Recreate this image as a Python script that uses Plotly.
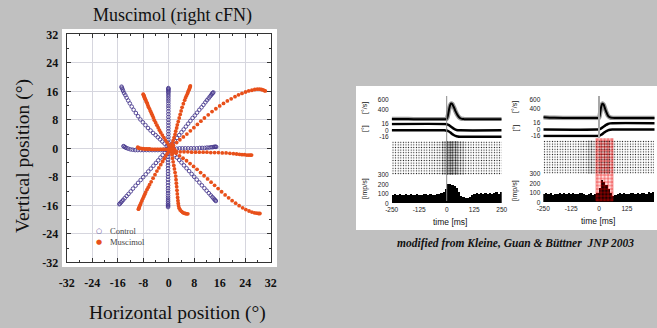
import plotly.graph_objects as go

W, H = 657, 328

# ---------------- data: saccade trajectories (deg) ----------------
ctrl_upleft = [(0.0,0.0),(-0.6,0.6),(-1.3,1.3),(-2.0,1.9),(-2.7,2.5),(-3.4,3.1),(-4.1,3.7),(-4.9,4.3),(-5.7,5.0),(-6.5,5.7),(-7.3,6.5),(-8.1,7.3),(-8.9,8.1),(-9.6,9.0),(-10.3,9.9),(-11.0,10.8),(-11.6,11.7),(-12.2,12.6),(-12.7,13.4),(-13.2,14.2),(-13.6,14.9),(-14.0,15.5),(-14.3,16.1),(-14.5,16.6),(-14.7,17.0),(-14.8,17.3)]
ctrl_up = [(-0.1,0.0),(-0.1,0.8),(-0.1,1.6),(-0.1,2.4),(-0.1,3.2),(-0.1,4.0),(-0.1,4.8),(-0.1,5.6),(-0.1,6.4),(-0.1,7.2),(-0.1,8.0),(-0.1,8.8),(-0.1,9.6),(-0.1,10.4),(-0.1,11.2),(-0.1,11.9),(-0.1,12.6),(-0.1,13.3),(-0.1,13.9),(-0.1,14.5),(-0.1,15.0),(-0.1,15.5),(-0.1,15.9),(-0.1,16.2),(-0.1,16.5),(-0.1,16.7),(-0.1,16.9)]
ctrl_upright = [(0.6,0.7),(1.2,1.4),(1.9,2.1),(2.6,2.9),(3.3,3.7),(4.0,4.5),(4.7,5.3),(5.4,6.1),(6.1,6.9),(6.8,7.7),(7.5,8.5),(8.2,9.2),(8.9,10.0),(9.6,10.8),(10.3,11.5),(10.9,12.2),(11.5,12.9),(12.0,13.5),(12.5,14.0),(12.9,14.5),(13.3,14.9),(13.6,15.3),(13.8,15.5),(14.0,15.7)]
ctrl_right = [(0.8,-0.3),(1.6,-0.2),(2.5,-0.1),(3.4,0.0),(4.3,0.0),(5.2,0.0),(6.1,0.0),(7.0,0.0),(7.9,0.0),(8.8,0.0),(9.7,0.1),(10.5,0.1),(11.3,0.1),(12.0,0.2),(12.7,0.2),(13.3,0.3),(13.8,0.3),(14.2,0.4),(14.5,0.4),(14.7,0.4),(14.9,0.4)]
ctrl_left = [(-0.8,-0.3),(-1.6,-0.4),(-2.5,-0.5),(-3.4,-0.5),(-4.3,-0.5),(-5.2,-0.5),(-6.1,-0.5),(-7.0,-0.5),(-7.9,-0.5),(-8.8,-0.5),(-9.7,-0.5),(-10.5,-0.5),(-11.3,-0.4),(-12.0,-0.3),(-12.7,-0.1),(-13.3,0.1),(-13.7,0.3),(-14.0,0.5),(-14.2,0.6)]
ctrl_downleft = [(-0.6,-0.6),(-1.2,-1.2),(-1.9,-1.9),(-2.6,-2.6),(-3.3,-3.4),(-4.0,-4.1),(-4.8,-4.9),(-5.6,-5.7),(-6.4,-6.5),(-7.2,-7.3),(-8.0,-8.1),(-8.8,-8.9),(-9.6,-9.7),(-10.4,-10.5),(-11.2,-11.3),(-11.9,-12.1),(-12.6,-12.8),(-13.2,-13.4),(-13.8,-14.0),(-14.3,-14.5),(-14.7,-14.9),(-15.0,-15.2),(-15.3,-15.5),(-15.5,-15.7)]
ctrl_down = [(-0.2,-0.8),(-0.2,-1.6),(-0.2,-2.4),(-0.2,-3.2),(-0.2,-4.0),(-0.2,-4.8),(-0.2,-5.6),(-0.2,-6.4),(-0.2,-7.2),(-0.2,-8.0),(-0.2,-8.8),(-0.2,-9.6),(-0.2,-10.4),(-0.2,-11.2),(-0.2,-11.9),(-0.2,-12.6),(-0.2,-13.3),(-0.2,-13.9),(-0.2,-14.5),(-0.2,-15.0),(-0.2,-15.5),(-0.2,-15.9),(-0.2,-16.2),(-0.2,-16.5)]
ctrl_downright = [(0.6,-0.6),(1.2,-1.2),(1.9,-1.9),(2.6,-2.6),(3.3,-3.3),(4.0,-4.0),(4.8,-4.8),(5.6,-5.6),(6.4,-6.4),(7.2,-7.2),(8.0,-8.0),(8.8,-8.8),(9.6,-9.6),(10.4,-10.4),(11.2,-11.2),(11.9,-11.9),(12.6,-12.6),(13.2,-13.2),(13.7,-13.7),(14.1,-14.1),(14.4,-14.4),(14.6,-14.6),(14.8,-14.8)]

mus_center = [(0.5,-0.5),(1.0,-0.2),(1.5,-0.6),(1.0,-1.0),(0.6,0.1),(1.4,0.2),(1.8,-0.3),(0.2,-0.8),(1.2,-1.4),(2.0,-0.9)]
mus_upleft = [(0.5,0.3),(0.0,0.9),(-0.5,1.6),(-1.0,2.3),(-1.5,3.0),(-2.0,3.7),(-2.5,4.4),(-2.9,5.1),(-3.3,5.8),(-3.7,6.5),(-4.1,7.2),(-4.5,7.9),(-4.8,8.6),(-5.1,9.2),(-5.4,9.8),(-5.7,10.4),(-6.0,11.0),(-6.3,11.5),(-6.5,12.0),(-6.7,12.5),(-6.9,12.9),(-7.1,13.3),(-7.3,13.7),(-7.5,14.0),(-7.6,14.3),(-7.7,14.6),(-7.8,14.8),(-7.9,15.0),(-8.0,15.2)]
mus_up = [(0.8,0.7),(1.1,1.4),(1.4,2.2),(1.7,3.0),(2.0,3.9),(2.2,4.8),(2.5,5.7),(2.7,6.6),(3.0,7.5),(3.3,8.5),(3.6,9.5),(3.9,10.5),(4.2,11.5),(4.6,12.5),(5.0,13.5),(5.3,14.2),(5.6,14.8),(5.9,15.4),(6.1,15.9),(6.3,16.3),(6.5,16.7),(6.6,17.0),(6.7,17.3),(6.8,17.5)]
mus_upright = [(1.5,0.8),(2.5,1.6),(3.5,2.4),(4.6,3.2),(5.7,4.0),(6.8,4.9),(7.9,5.8),(9.0,6.7),(10.1,7.6),(11.2,8.5),(12.4,9.4),(13.6,10.3),(14.8,11.1),(16.0,11.9),(17.2,12.6),(18.4,13.3),(19.6,13.9),(20.8,14.5),(21.9,15.0),(23.0,15.4),(24.1,15.8),(25.1,16.1),(26.1,16.3),(27.0,16.5),(27.8,16.6),(28.5,16.6),(29.1,16.5),(29.6,16.4),(30.0,16.2),(30.3,16.1)]
mus_right = [(1.2,-0.8),(2.4,-0.9),(3.6,-1.0),(4.8,-1.0),(6.0,-1.0),(7.2,-1.1),(8.4,-1.1),(9.6,-1.1),(10.8,-1.1),(12.0,-1.1),(13.2,-1.2),(14.4,-1.2),(15.6,-1.2),(16.8,-1.3),(18.0,-1.3),(19.2,-1.4),(20.3,-1.5),(21.3,-1.6),(22.2,-1.7),(23.0,-1.8),(23.8,-1.8),(24.5,-1.9),(25.1,-1.9),(25.6,-1.9),(26.0,-1.9)]
mus_left = [(0.5,-0.2),(0.0,-0.2),(-0.5,-0.3),(-1.0,-0.3),(-1.5,-0.3),(-2.0,-0.3),(-2.5,-0.3),(-3.0,-0.3),(-3.5,-0.3),(-4.0,-0.3),(-4.5,-0.3),(-5.0,-0.3),(-5.5,-0.3),(-6.0,-0.2),(-6.5,-0.2),(-7.0,-0.2),(-7.5,-0.2),(-8.0,-0.1),(-8.4,-0.1),(-8.8,0.0),(-9.2,0.0),(-9.5,0.1),(-9.7,0.3)]
mus_downleft = [(0.0,-0.7),(-0.4,-1.4),(-0.9,-2.1),(-1.4,-2.9),(-1.9,-3.7),(-2.5,-4.6),(-3.1,-5.5),(-3.7,-6.4),(-4.3,-7.4),(-4.9,-8.4),(-5.5,-9.4),(-6.0,-10.2),(-6.4,-10.9),(-6.8,-11.6),(-7.2,-12.3),(-7.5,-12.9),(-7.8,-13.5),(-8.1,-14.1),(-8.4,-14.7),(-8.7,-15.3),(-8.9,-15.8),(-9.1,-16.2),(-9.3,-16.6),(-9.4,-16.9),(-9.5,-17.1)]
mus_down = [(0.8,-0.8),(1.0,-1.8),(1.2,-2.8),(1.4,-3.8),(1.6,-4.8),(1.8,-5.8),(2.0,-6.8),(2.2,-7.8),(2.3,-8.8),(2.4,-9.8),(2.5,-10.8),(2.6,-11.8),(2.7,-12.8),(2.8,-13.8),(2.9,-14.7),(3.0,-15.5),(3.1,-16.2),(3.3,-16.8),(3.6,-17.3),(4.0,-17.7),(4.4,-18.0),(4.8,-18.2),(5.2,-18.3),(5.6,-18.4),(6.0,-18.4)]
mus_downright = [(1.2,-0.7),(2.3,-1.4),(3.4,-2.1),(4.5,-2.8),(5.6,-3.5),(6.7,-4.3),(7.8,-5.1),(8.9,-5.9),(10.0,-6.8),(11.1,-7.7),(12.2,-8.6),(13.3,-9.5),(14.4,-10.4),(15.5,-11.3),(16.6,-12.2),(17.7,-13.1),(18.8,-13.9),(19.9,-14.7),(21.0,-15.4),(22.1,-16.1),(23.2,-16.7),(24.2,-17.2),(25.2,-17.6),(26.1,-17.9),(26.9,-18.1),(27.6,-18.2),(28.2,-18.3),(28.6,-18.3)]

axis_ticks = [-32, -24, -16, -8, 0, 8, 16, 24, 32]
axis_labels = ["-32", "-24", "-16", "-8", "0", "8", "16", "24", "32"]

# ---------------- data: neural recording panels ----------------
time_ticks = [-250, -125, 0, 125, 250]
time_labels = ["-250", "-125", "0", "125", "250"]
vel_time = [-250, -200, -150, -100, -50, -5, 0, 5, 10, 15, 20, 25, 30, 35, 40, 50, 60, 70, 80, 150, 250]
vel_left = [195, 192, 190, 190, 190, 190, 195, 260, 380, 480, 525, 515, 470, 420, 360, 270, 215, 195, 190, 190, 190]
vel_right = [215, 200, 197, 197, 197, 197, 200, 300, 440, 505, 490, 430, 360, 300, 250, 210, 200, 197, 197, 197, 197]
pos_time = [-250, -10, 0, 10, 20, 30, 40, 50, 60, 250]
pos_left_a = [16, 16, 15.5, 13, 9, 5, 2, 0.5, 0, 0]
pos_left_b = [0, 0, -0.5, -3, -7, -11, -14, -15.5, -16, -16]
pos_right_a = [0, 0, 0.5, 3, 7, 11, 14, 15.5, 16, 16]
pos_right_b = [-16, -16, -15.5, -13, -9, -5, -2, -0.5, 0, 0]

raster_time = [-237.5, -212.5, -187.5, -162.5, -137.5, -112.5, -87.5, -62.5, -37.5, -12.5,
               12.5, 37.5, 62.5, 87.5, 112.5, 137.5, 162.5, 187.5, 212.5, 237.5]
raster_left = [0.16, 0.18, 0.16, 0.17, 0.16, 0.18, 0.17, 0.19, 0.24, 0.38, 0.5, 0.45, 0.3, 0.2, 0.17, 0.16, 0.18, 0.16, 0.17, 0.16]
raster_right = [0.16, 0.17, 0.16, 0.18, 0.16, 0.17, 0.19, 0.24, 0.3, 0.25, 0.42, 0.42, 0.24, 0.16, 0.17, 0.16, 0.17, 0.16, 0.17, 0.16]

hist_time = [-245, -235, -225, -215, -205, -195, -185, -175, -165, -155,
             -145, -135, -125, -115, -105, -95, -85, -75, -65, -55,
             -45, -35, -25, -15, -5, 5, 15, 25, 35, 45,
             55, 65, 75, 85, 95, 105, 115, 125, 135, 145,
             155, 165, 175, 185, 195, 205, 215, 225, 235, 245]
hist_left = [85, 95, 90, 100, 88, 92, 98, 86, 95, 90,
             88, 97, 92, 85, 99, 95, 90, 100, 93, 88,
             96, 100, 105, 120, 150, 205, 200, 190, 185, 160,
             120, 80, 62, 55, 60, 70, 85, 95, 105, 100,
             110, 95, 105, 100, 112, 98, 108, 115, 100, 120]
hist_right = [90, 100, 85, 95, 80, 92, 85, 98, 88, 95,
              90, 100, 88, 95, 92, 85, 95, 100, 90, 80,
              88, 95, 80, 85, 100, 150, 235, 220, 180, 140,
              100, 70, 80, 90, 95, 88, 100, 92, 85, 98,
              95, 90, 100, 85, 95, 100, 90, 105, 95, 110]
window_start, window_end = -10, 65

# ---------------- helpers ----------------
def xs(tr): return [p[0] for p in tr]
def ys(tr): return [p[1] for p in tr]
def px(p): return p / W
def py(p): return 1 - p / H

CTRL = "#4a3b8e"
MUS = "#e8501a"
SERIF = "Liberation Serif"
SANS = "Liberation Sans"

fig = go.Figure()

ctrl = [ctrl_upleft, ctrl_up, ctrl_upright, ctrl_right, ctrl_left, ctrl_downleft, ctrl_down, ctrl_downright]
mus = [mus_center, mus_upleft, mus_up, mus_upright, mus_right, mus_left, mus_downleft, mus_down, mus_downright]
fig.add_trace(go.Scatter(x=sum([xs(t) for t in ctrl], []), y=sum([ys(t) for t in ctrl], []),
                         mode="markers", name="Control",
                         marker=dict(symbol="circle-open", size=3.6, color=CTRL, line=dict(width=0.9, color=CTRL))))
fig.add_trace(go.Scatter(x=sum([xs(t) for t in mus], []), y=sum([ys(t) for t in mus], []),
                         mode="markers", name="Muscimol",
                         marker=dict(symbol="circle", size=3.8, color=MUS)))

# ---- recording panels (left: x2 / y2..y5, right: x3 / y6..y9) ----
def panel(xa, yv, yp, yr, yh, vel, pa, pb, raster, hist):
    fig.add_trace(go.Scatter(x=vel_time, y=vel, xaxis=xa, yaxis=yv, mode="lines",
                             line=dict(color="#9a9a9a", width=4.5), line_shape="spline"))
    fig.add_trace(go.Scatter(x=vel_time, y=vel, xaxis=xa, yaxis=yv, mode="lines",
                             line=dict(color="black", width=2), line_shape="spline"))
    for p in (pa, pb):
        fig.add_trace(go.Scatter(x=pos_time, y=p, xaxis=xa, yaxis=yp, mode="lines",
                                 line=dict(color="black", width=2.5), line_shape="spline"))
    fig.add_trace(go.Bar(x=raster_time, y=[1] * len(raster_time), width=25, xaxis=xa, yaxis=yr,
                         marker=dict(color="black", line=dict(width=0),
                                     pattern=dict(shape=".", fgcolor="#111", bgcolor="white",
                                                  size=2.6, solidity=raster, fillmode="replace"))))
    fig.add_trace(go.Bar(x=hist_time, y=hist, width=10, xaxis=xa, yaxis=yh,
                         marker=dict(color="black", line=dict(width=0))))

panel("x2", "y2", "y3", "y4", "y5", vel_left, pos_left_a, pos_left_b, raster_left, hist_left)
panel("x3", "y6", "y7", "y8", "y9", vel_right, pos_right_a, pos_right_b, raster_right, hist_right)

fig.add_trace(go.Bar(x=[(window_start + window_end) / 2], y=[1], width=[window_end - window_start],
                     xaxis="x3", yaxis="y10",
                     marker=dict(color="rgba(255,0,0,0.15)", line=dict(width=0.6, color="rgba(230,0,0,0.7)"),
                                 pattern=dict(shape="+", fgcolor="rgba(235,0,0,0.85)", bgcolor="rgba(255,0,0,0.12)",
                                              size=3.5, solidity=0.3, fillmode="replace"))))

# ---------------- layout ----------------
main_axis = dict(range=[-32, 32], tickvals=axis_ticks, ticktext=axis_labels, ticks="inside", ticklen=4,
                 tickcolor="#333", mirror="ticks", showline=True, linecolor="#333", linewidth=1,
                 showgrid=True, gridcolor="#d6d6de", gridwidth=1, zeroline=False, automargin=False,
                 minor=dict(dtick=4, ticks="inside", ticklen=2, tickcolor="#333", showgrid=False),
                 tickfont=dict(family=SERIF, size=12, color="#111", weight="bold"))

def tax(dom, anchor):
    return dict(domain=dom, range=[-250, 250], anchor=anchor, tickvals=time_ticks, ticktext=time_labels,
                showline=False, ticks="", showgrid=False, zeroline=False, automargin=False,
                tickfont=dict(family=SANS, size=6.5, color="#222"), ticklabelstandoff=1)

def yax(top, bot, rng, tv, anchor, show=True):
    return dict(domain=[py(bot), py(top)], range=rng, anchor=anchor, tickvals=tv,
                ticktext=[str(v) for v in tv], showticklabels=show,
                showline=False, ticks="", showgrid=False, zeroline=False, automargin=False,
                tickfont=dict(family=SANS, size=6.5, color="#222"), ticklabelstandoff=2)

off = -0.8
fig.update_layout(
    width=W, height=H, autosize=False, margin=dict(l=0, r=0, t=0, b=0),
    paper_bgcolor="#c0c0c0", plot_bgcolor="rgba(0,0,0,0)", showlegend=False,
    barmode="overlay", bargap=0,
    xaxis=dict(main_axis, domain=[px(66.7), px(270.7)], ticklabelstandoff=9),
    yaxis=dict(main_axis, domain=[py(262.3), py(34.3)], ticklabelstandoff=5),
    xaxis2=tax([px(391.7), px(501.7)], "y5"),
    yaxis2=yax(97.7, 121, [150, 650], [400, 600], "x2"),
    yaxis3=yax(122.4, 138.3, [-20, 20], [-16, 0, 16], "x2"),
    yaxis4=yax(141, 175, [0, 1], [], "x2", False),
    yaxis5=yax(175, 203.3, [0, 300], [0, 100, 200, 300], "x2"),
    xaxis3=tax([px(543.3), px(654.7)], "y9"),
    yaxis6=yax(97.7 + off, 121 + off, [150, 650], [400, 600], "x3"),
    yaxis7=yax(122.4 + off, 138.3 + off, [-20, 20], [-16, 0, 16], "x3"),
    yaxis8=yax(141 + off, 175 + off, [0, 1], [], "x3", False),
    yaxis9=yax(175 + off, 203.3 + off, [0, 300], [0, 100, 200, 300], "x3"),
    yaxis10=dict(domain=[py(201.7), py(138.3)], range=[0, 1], anchor="x3", visible=False, automargin=False),
)

fig.update_layout(shapes=[
    dict(type="rect", xref="paper", yref="paper", x0=px(62), x1=px(277), y0=py(267), y1=py(29),
         fillcolor="white", line=dict(width=0), layer="below"),
    dict(type="rect", xref="paper", yref="paper", x0=px(356), x1=1, y0=py(230), y1=py(86),
         fillcolor="white", line=dict(width=0), layer="below"),
    dict(type="line", xref="x2", yref="paper", x0=0, x1=0, y0=py(201), y1=py(96),
         line=dict(color="#8a8a8a", width=1)),
    dict(type="line", xref="x3", yref="paper", x0=0, x1=0, y0=py(138), y1=py(96),
         line=dict(color="#a8a8a8", width=2)),
])

def ann(text, x, y, size, family=SERIF, color="#111", angle=0, xanchor="center", **kw):
    return dict(text=text, x=px(x), y=py(y), xref="paper", yref="paper", showarrow=False,
                xanchor=xanchor, yanchor="middle", textangle=angle,
                font=dict(family=family, size=size, color=color, **kw))

fig.update_layout(annotations=[
    ann("Muscimol (right cFN)", 172, 15.5, 18),
    ann("Vertical position (°)", 23, 156, 19.5, angle=-90),
    ann("Horizontal position (°)", 177, 312.5, 19.5),
    ann("○", 99, 231, 7, family="DejaVu Sans", color=CTRL),
    ann("●", 99, 242, 7, family="DejaVu Sans", color=MUS),
    ann("Control", 108, 231, 8.5, color="#444", xanchor="left"),
    ann("Muscimol", 108, 242, 8.5, color="#444", xanchor="left"),
    ann("[°/s]", 365, 108, 7, family=SANS, angle=-90),
    ann("[°]", 365, 129, 7, family=SANS, angle=-90),
    ann("[imp/s]", 365, 189, 7, family=SANS, angle=-90),
    ann("[°/s]", 515, 107, 7, family=SANS, angle=-90),
    ann("[°]", 515, 128.5, 7, family=SANS, angle=-90),
    ann("[imp/s]", 515, 191, 7, family=SANS, angle=-90),
    ann("time [ms]", 450, 221.5, 8.5, family=SANS),
    ann("time [ms]", 598, 220.5, 8.5, family=SANS),
    ann("modified from Kleine, Guan &amp; Büttner  JNP 2003", 515.5, 243.3, 11.5,
        weight="bold", style="italic"),
])

fig.write_html("out.html", config={"displayModeBar": False},
               post_script="document.body.style.margin='0';document.body.style.overflow='hidden';")
